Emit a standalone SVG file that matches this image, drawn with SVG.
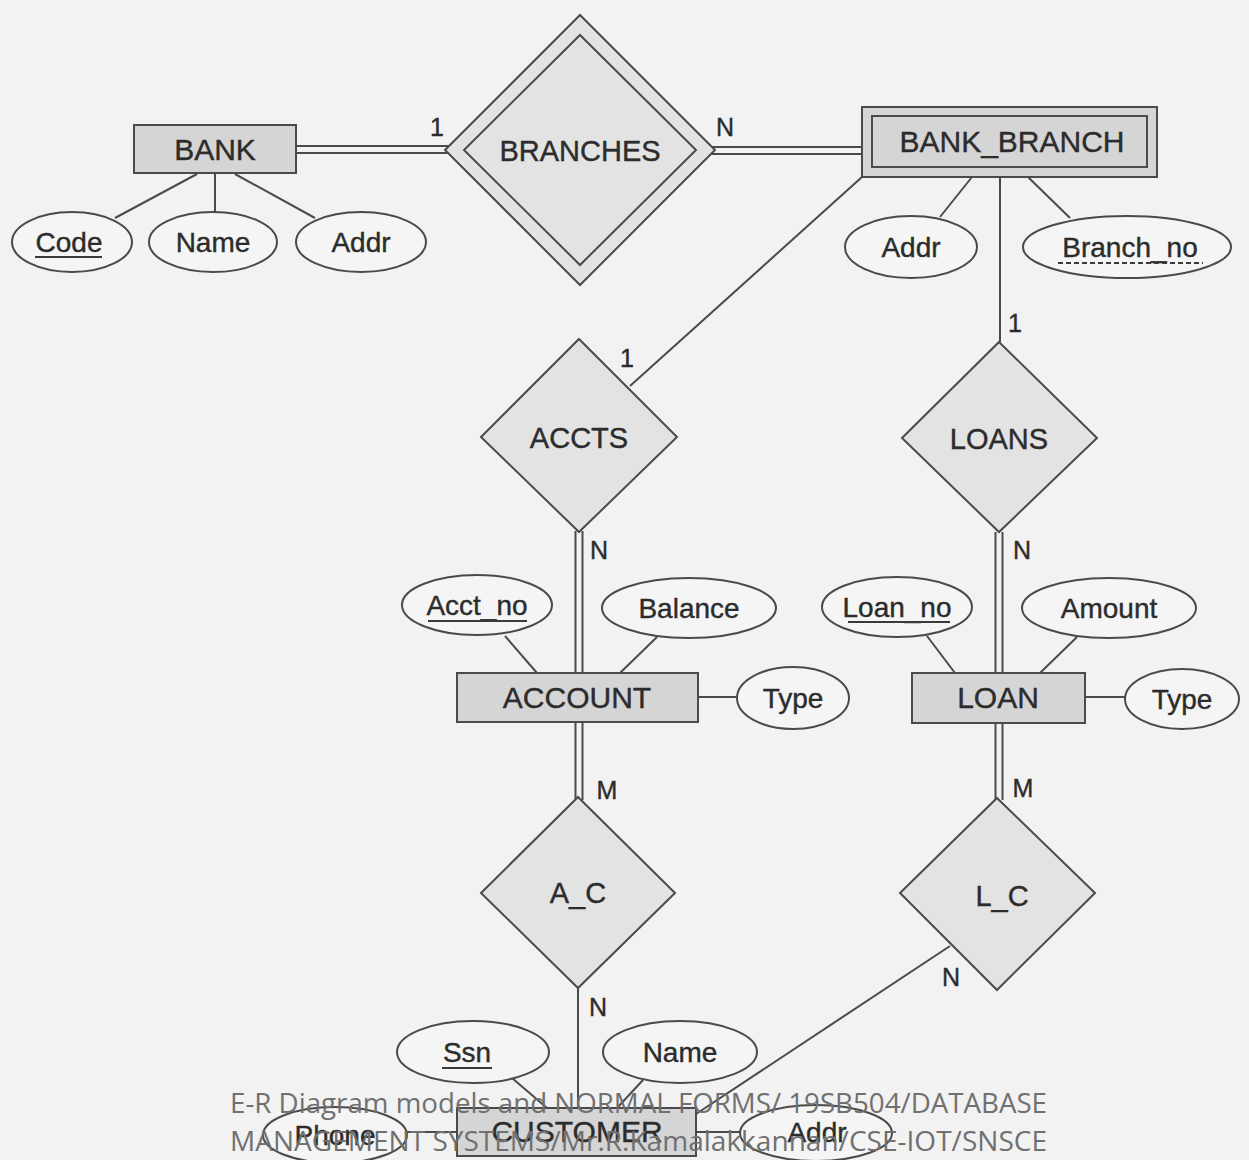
<svg xmlns="http://www.w3.org/2000/svg" width="1249" height="1160" viewBox="0 0 1249 1160">
<style>
.ent{fill:#d5d5d5;stroke:#4a4a4a;stroke-width:2}
.rel{fill:#e3e3e3;stroke:#4a4a4a;stroke-width:2}
.att{fill:#f5f5f5;stroke:#4a4a4a;stroke-width:2}
.ln{stroke:#4a4a4a;stroke-width:2;fill:none}
.ul{stroke:#3a3a3a;stroke-width:2}
.dul{stroke:#3a3a3a;stroke-width:2;stroke-dasharray:5 3}
text{font-family:"Liberation Sans",Arial,sans-serif;fill:#2c2c2c;stroke:#2c2c2c;stroke-width:0.4;text-anchor:middle}
.et{font-size:30px}
.rt{font-size:29px}
.at{font-size:28px}
.card{font-size:25px}
.foot{font-family:"Open Sans","Liberation Sans",sans-serif;font-size:28px;fill:#707070;stroke:none;text-anchor:start}
</style>
<rect x="0" y="0" width="1249" height="1160" fill="#f2f2f2"/>

<g id="connectors">
  <line class="ln" x1="197" y1="174" x2="115" y2="218"/>
  <line class="ln" x1="215" y1="174" x2="215" y2="212"/>
  <line class="ln" x1="235" y1="174" x2="315" y2="218"/>
  <line class="ln" x1="297" y1="146" x2="452" y2="146"/>
  <line class="ln" x1="297" y1="153" x2="452" y2="153"/>
  <line class="ln" x1="706" y1="147" x2="862" y2="147"/>
  <line class="ln" x1="706" y1="154" x2="862" y2="154"/>
  <line class="ln" x1="972" y1="177" x2="940" y2="217"/>
  <line class="ln" x1="1028" y1="177" x2="1070" y2="218"/>
  <line class="ln" x1="1000" y1="177" x2="1000" y2="342"/>
  <line class="ln" x1="862" y1="177" x2="630" y2="386"/>
  <line class="ln" x1="575.5" y1="531" x2="575.5" y2="673"/>
  <line class="ln" x1="582.5" y1="531" x2="582.5" y2="673"/>
  <line class="ln" x1="505" y1="636" x2="537" y2="673"/>
  <line class="ln" x1="657" y1="637" x2="620" y2="673"/>
  <line class="ln" x1="698" y1="697" x2="737" y2="697"/>
  <line class="ln" x1="995.5" y1="532" x2="995.5" y2="673"/>
  <line class="ln" x1="1002.5" y1="532" x2="1002.5" y2="673"/>
  <line class="ln" x1="927" y1="636" x2="955" y2="673"/>
  <line class="ln" x1="1077" y1="637" x2="1040" y2="673"/>
  <line class="ln" x1="1085" y1="697" x2="1125" y2="697"/>
  <line class="ln" x1="575.5" y1="722" x2="575.5" y2="800"/>
  <line class="ln" x1="582.5" y1="722" x2="582.5" y2="800"/>
  <line class="ln" x1="578" y1="988" x2="578" y2="1108"/>
  <line class="ln" x1="995.5" y1="723" x2="995.5" y2="800"/>
  <line class="ln" x1="1002.5" y1="723" x2="1002.5" y2="800"/>
  <line class="ln" x1="950" y1="946" x2="696" y2="1114"/>
  <line class="ln" x1="512" y1="1078" x2="547" y2="1108"/>
  <line class="ln" x1="643" y1="1080" x2="617" y2="1108"/>
  <line class="ln" x1="406" y1="1132" x2="457" y2="1132"/>
  <line class="ln" x1="696" y1="1132" x2="741" y2="1132"/>
  <text class="card" x="437" y="136">1</text>
  <text class="card" x="725" y="136">N</text>
  <text class="card" x="1015" y="332">1</text>
  <text class="card" x="627" y="367">1</text>
  <text class="card" x="599" y="559">N</text>
  <text class="card" x="1022" y="559">N</text>
  <text class="card" x="607" y="799">M</text>
  <text class="card" x="598" y="1016">N</text>
  <text class="card" x="1023" y="797">M</text>
  <text class="card" x="951" y="986">N</text>
</g>

<g id="BANK">
  <rect class="ent" x="134" y="125" width="162" height="48"/>
  <text class="et" x="215" y="160">BANK</text>
</g>
<g id="BANK_Code">
  <ellipse class="att" cx="72" cy="242" rx="60" ry="30"/>
  <text class="at" x="69" y="252">Code</text>
  <line class="ul" x1="35" y1="257" x2="102" y2="257"/>
</g>
<g id="BANK_Name">
  <ellipse class="att" cx="213" cy="242" rx="64" ry="30"/>
  <text class="at" x="213" y="252">Name</text>
</g>
<g id="BANK_Addr">
  <ellipse class="att" cx="361" cy="242" rx="65" ry="30"/>
  <text class="at" x="361" y="252">Addr</text>
</g>

<g id="BRANCHES">
  <polygon class="rel" points="580,15 715,150 580,285 445,150"/>
  <polygon class="rel" points="580,35 696,150 580,265 464,150"/>
  <text class="rt" x="580" y="161">BRANCHES</text>
</g>

<g id="BANK_BRANCH">
  <rect class="ent" x="862" y="107" width="295" height="70"/>
  <rect class="ent" x="872" y="116" width="275" height="51"/>
  <text class="et" x="1012" y="152">BANK_BRANCH</text>
</g>
<g id="BB_Addr">
  <ellipse class="att" cx="911" cy="247" rx="66" ry="31"/>
  <text class="at" x="911" y="257">Addr</text>
</g>
<g id="BB_Branch_no">
  <ellipse class="att" cx="1127" cy="247" rx="104" ry="31"/>
  <text class="at" x="1130" y="257">Branch_no</text>
  <line class="dul" x1="1058" y1="263" x2="1203" y2="263"/>
</g>

<g id="ACCTS">
  <polygon class="rel" points="579,339 677,437 579,532 481,437"/>
  <text class="rt" x="579" y="448">ACCTS</text>
</g>
<g id="LOANS">
  <polygon class="rel" points="999,342 1097,438 999,532 902,438"/>
  <text class="rt" x="999" y="449">LOANS</text>
</g>

<g id="ACC_Acct_no">
  <ellipse class="att" cx="477" cy="605" rx="75" ry="30"/>
  <text class="at" x="477" y="615">Acct_no</text>
  <line class="ul" x1="428" y1="621" x2="527" y2="621"/>
</g>
<g id="ACC_Balance">
  <ellipse class="att" cx="689" cy="608" rx="87" ry="30"/>
  <text class="at" x="689" y="618">Balance</text>
</g>
<g id="ACCOUNT">
  <rect class="ent" x="457" y="673" width="241" height="49"/>
  <text class="et" x="577" y="708">ACCOUNT</text>
</g>
<g id="ACC_Type">
  <ellipse class="att" cx="793" cy="698" rx="56" ry="31"/>
  <text class="at" x="793" y="708">Type</text>
</g>

<g id="LOAN_Loan_no">
  <ellipse class="att" cx="897" cy="607" rx="75" ry="30"/>
  <text class="at" x="897" y="617">Loan_no</text>
  <line class="ul" x1="848" y1="622" x2="950" y2="622"/>
</g>
<g id="LOAN_Amount">
  <ellipse class="att" cx="1109" cy="608" rx="87" ry="30"/>
  <text class="at" x="1109" y="618">Amount</text>
</g>
<g id="LOAN">
  <rect class="ent" x="912" y="673" width="173" height="50"/>
  <text class="et" x="998" y="708">LOAN</text>
</g>
<g id="LOAN_Type">
  <ellipse class="att" cx="1182" cy="699" rx="57" ry="30"/>
  <text class="at" x="1182" y="709">Type</text>
</g>

<g id="A_C">
  <polygon class="rel" points="578,797 675,893 578,988 481,893"/>
  <text class="rt" x="578" y="903">A_C</text>
</g>
<g id="L_C">
  <polygon class="rel" points="997,798 1095,893 997,990 900,893"/>
  <text class="rt" x="1002" y="906">L_C</text>
</g>

<g id="CUST_Ssn">
  <ellipse class="att" cx="473" cy="1052" rx="76" ry="31"/>
  <text class="at" x="467" y="1062">Ssn</text>
  <line class="ul" x1="442" y1="1068" x2="492" y2="1068"/>
</g>
<g id="CUST_Name">
  <ellipse class="att" cx="680" cy="1052" rx="77" ry="31"/>
  <text class="at" x="680" y="1062">Name</text>
</g>
<g id="CUST_Phone">
  <ellipse class="att" cx="335" cy="1135" rx="72" ry="28"/>
  <text class="at" x="335" y="1145">Phone</text>
</g>
<g id="CUSTOMER">
  <rect class="ent" x="457" y="1108" width="239" height="48"/>
  <text class="et" x="577" y="1142">CUSTOMER</text>
</g>
<g id="CUST_Addr">
  <ellipse class="att" cx="816" cy="1133" rx="76" ry="28"/>
  <text class="at" x="817" y="1142">Addr</text>
</g>

<g id="footer">
  <text class="foot" x="230" y="1113" textLength="817" lengthAdjust="spacingAndGlyphs">E-R Diagram models and NORMAL FORMS/ 19SB504/DATABASE</text>
  <text class="foot" x="230" y="1151" textLength="817" lengthAdjust="spacingAndGlyphs">MANAGEMENT SYSTEMS/Mr.R.Kamalakkannan/CSE-IOT/SNSCE</text>
</g>
</svg>
